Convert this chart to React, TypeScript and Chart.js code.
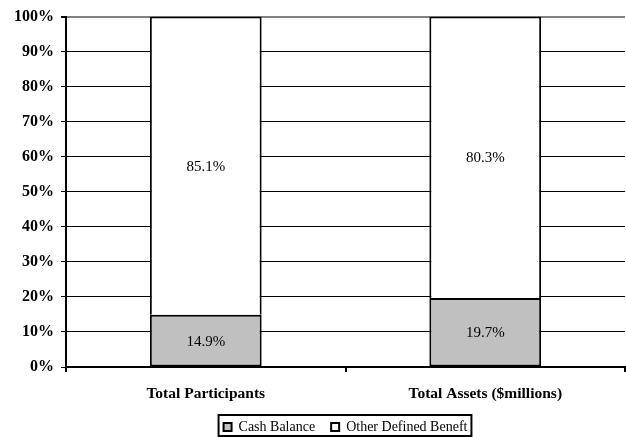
import React, { useEffect, useRef } from "react";
import { Chart, registerables } from "chart.js";

Chart.register(...registerables);

const categories = ["Total Participants", "Total Assets ($millions)"];
const cashBalance = [14.9, 19.7];
const otherDefinedBenefit = [85.1, 80.3];
const seriesNames = ["Cash Balance", "Other Defined Beneft"];
const yTicks = [0, 10, 20, 30, 40, 50, 60, 70, 80, 90, 100];

const FONT = "'Liberation Serif', 'Times New Roman', serif";
const LEGEND_HEIGHT = 33;

const valueLabels = {
  id: "valueLabels",
  afterDatasetsDraw(chart: any) {
    const ctx = chart.ctx;
    ctx.save();
    ctx.font = `15px ${FONT}`;
    ctx.fillStyle = "#000";
    ctx.textAlign = "center";
    ctx.textBaseline = "middle";
    chart.data.datasets.forEach((ds: any, i: number) => {
      const meta = chart.getDatasetMeta(i);
      meta.data.forEach((el: any, j: number) => {
        const p = el.getCenterPoint();
        ctx.fillText(ds.data[j].toFixed(1) + "%", p.x, p.y + 1);
      });
    });
    ctx.restore();
  },
};

const legendSize = {
  id: "legendSize",
  afterInit(chart: any) {
    const lg = chart.legend;
    if (!lg) return;
    const orig = lg.fit.bind(lg);
    lg.fit = function () {
      orig();
      this.height = LEGEND_HEIGHT;
    };
  },
};

const legendBorder = {
  id: "legendBorder",
  afterDraw(chart: any) {
    const lg = chart.legend;
    if (!lg || !lg.legendHitBoxes || !lg.legendHitBoxes.length) return;
    const boxes = lg.legendHitBoxes;
    let l = Infinity, r = -Infinity, t = Infinity;
    boxes.forEach((h: any) => {
      l = Math.min(l, h.left);
      r = Math.max(r, h.left + h.width);
      t = Math.min(t, h.top);
    });
    const ctx = chart.ctx;
    ctx.save();
    ctx.strokeStyle = "#000";
    ctx.lineWidth = 2;
    ctx.strokeRect(l - 5, t - 5, r - l + 9, 436 - (t - 5));
    ctx.restore();
  },
};

export default function App() {
  const ref = useRef<HTMLCanvasElement>(null);
  useEffect(() => {
    document.body.style.margin = "0";
    const chart = new Chart(ref.current!, {
      type: "bar",
      data: {
        labels: categories,
        datasets: [
          {
            label: seriesNames[0],
            data: cashBalance,
            backgroundColor: "#c0c0c0",
            borderColor: "#000",
            borderWidth: 2,
            borderSkipped: false,
          },
          {
            label: seriesNames[1],
            data: otherDefinedBenefit,
            backgroundColor: "#ffffff",
            borderColor: "#000",
            borderWidth: 2,
            borderSkipped: "start",
          },
        ],
      },
      options: {
        animation: false,
        responsive: false,
        maintainAspectRatio: false,
        layout: { padding: { top: 15, right: 1, left: 0, bottom: 0 } },
        datasets: { bar: { categoryPercentage: 1, barPercentage: 0.4 } },
        scales: {
          x: {
            stacked: true,
            grid: {
              offset: true,
              drawOnChartArea: false,
              drawTicks: true,
              tickLength: 5,
              color: "#000",
              lineWidth: 2,
            },
            border: { color: "#000", width: 2 },
            ticks: {
              color: "#000",
              padding: 13,
              font: { family: FONT, size: 15.5, weight: "bold" },
            },
            afterFit(scale: any) {
              scale.height = 37;
            },
          },
          y: {
            stacked: true,
            min: 0,
            max: 100,
            afterBuildTicks(scale: any) {
              scale.ticks = yTicks.map((v) => ({ value: v }));
            },
            grid: {
              color: (c: any) => (c.tick && c.tick.value === 100 ? "#808080" : "#000"),
              lineWidth: (c: any) => (c.tick && c.tick.value === 100 ? 2 : 1),
              tickLength: 5,
              tickColor: "#000",
            },
            border: { color: "#000", width: 2 },
            ticks: {
              color: "#000",
              padding: 7,
              font: { family: FONT, size: 16, weight: "bold" },
              callback: (v: any) => v + "%",
            },
            afterFit(scale: any) {
              scale.width = 66;
            },
          },
        },
        plugins: {
          legend: {
            position: "bottom",
            fullSize: false,
            labels: {
              color: "#000",
              boxWidth: 8,
              boxHeight: 8,
              padding: 16,
              font: { family: FONT, size: 14 },
              generateLabels: (chart: any) =>
                chart.data.datasets.map((ds: any, i: number) => ({
                  text: ds.label,
                  fillStyle: ds.backgroundColor,
                  strokeStyle: "#000",
                  lineWidth: 2,
                  datasetIndex: i,
                  hidden: false,
                })),
            },
          },
          tooltip: { enabled: false },
        },
      },
      plugins: [valueLabels, legendSize, legendBorder],
    } as any);
    return () => chart.destroy();
  }, []);
  return (
    <div style={{ position: "absolute", left: 0, top: 0, width: 626, height: 437 }}>
      <canvas ref={ref} width={626} height={437} style={{ display: "block" }} />
    </div>
  );
}
